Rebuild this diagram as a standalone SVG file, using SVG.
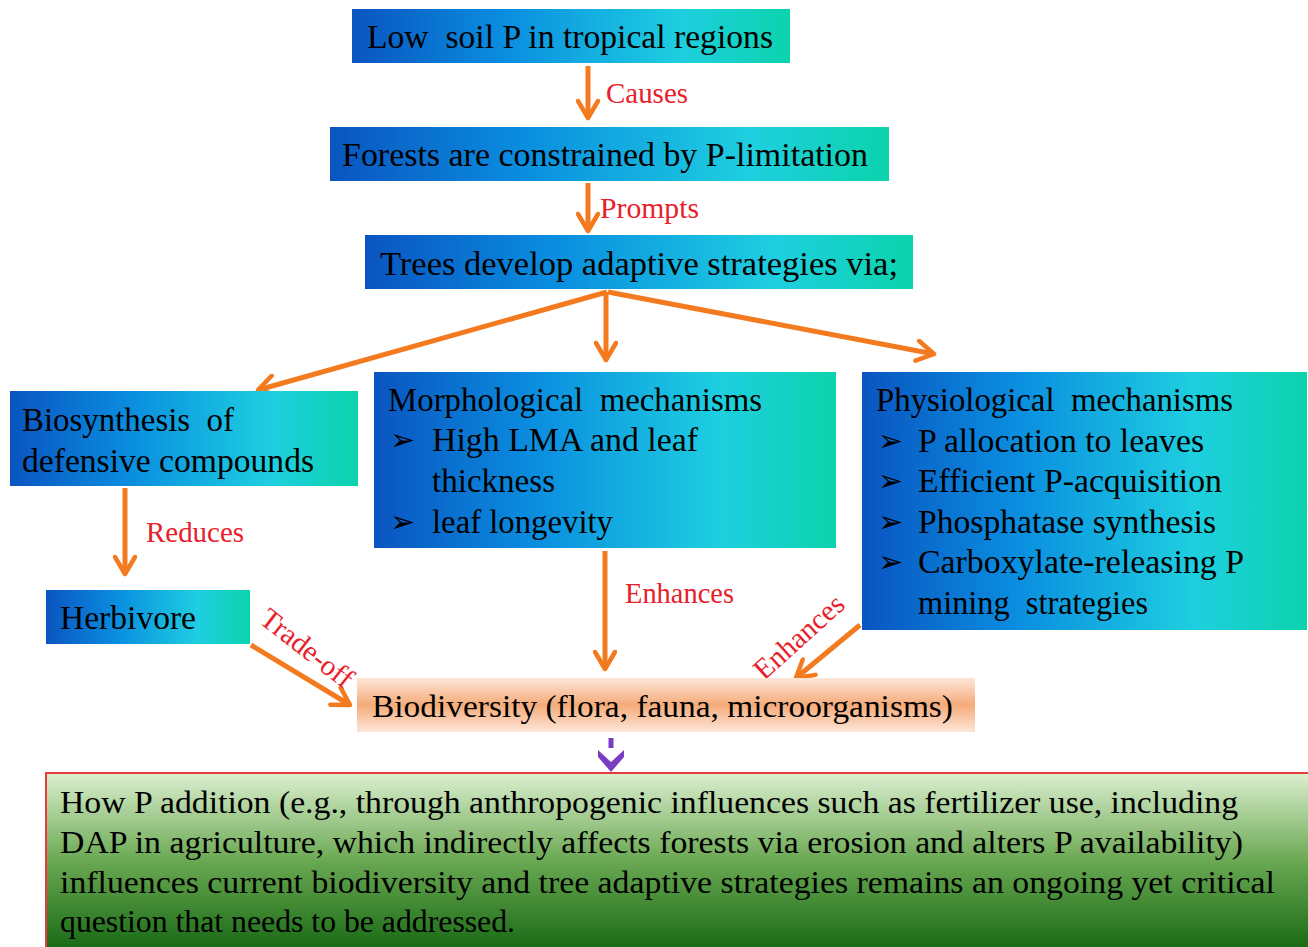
<svg xmlns="http://www.w3.org/2000/svg" width="1308" height="947" viewBox="0 0 1308 947">
<defs>
<linearGradient id="blue" x1="0" y1="0" x2="1" y2="0">
<stop offset="0" stop-color="#0a55c0"/>
<stop offset="0.35" stop-color="#0a8ee0"/>
<stop offset="0.75" stop-color="#1ecfe0"/>
<stop offset="1" stop-color="#0bd3ac"/>
</linearGradient>
<linearGradient id="peach" x1="0" y1="0" x2="0" y2="1">
<stop offset="0" stop-color="#fde6d8"/>
<stop offset="0.5" stop-color="#f5ab7a"/>
<stop offset="1" stop-color="#fde6d8"/>
</linearGradient>
<linearGradient id="green" x1="0" y1="0" x2="0" y2="1">
<stop offset="0" stop-color="#dcefd0"/>
<stop offset="0.5" stop-color="#6aa852"/>
<stop offset="1" stop-color="#1a6a16"/>
</linearGradient>
<marker id="chev" viewBox="0 0 24 24" refX="21" refY="12" markerWidth="24" markerHeight="24" markerUnits="userSpaceOnUse" orient="auto">
<path d="M4,2 L21,12 L4,22" fill="none" stroke="#f37a1e" stroke-width="4.5" stroke-linecap="round" stroke-linejoin="round"/>
</marker>
</defs>
<style>
.box{fill:url(#blue);}
.t{font-family:"Liberation Serif","Times New Roman",serif;font-size:34px;fill:#000;}
.lab{font-family:"Liberation Serif","Times New Roman",serif;font-size:29px;fill:#e8202a;}
.bul{font-family:"DejaVu Sans",sans-serif;font-size:30px;fill:#000;}
.arr{stroke:#f37a1e;stroke-width:5;fill:none;marker-end:url(#chev);}
.bt{font-family:"Liberation Serif","Times New Roman",serif;font-size:31px;fill:#000;}
</style>
<rect width="1308" height="947" fill="#ffffff"/>

<g id="connectors">
<line class="arr" x1="588" y1="66" x2="588" y2="118"/>
<line class="arr" x1="588" y1="183" x2="588" y2="231"/>
<line class="arr" x1="607" y1="292" x2="258" y2="390"/>
<line class="arr" x1="606" y1="292" x2="606" y2="360"/>
<line class="arr" x1="608" y1="292" x2="934" y2="354"/>
<line class="arr" x1="125" y1="488" x2="125" y2="574"/>
<line class="arr" x1="605" y1="551" x2="605" y2="669"/>
<line class="arr" x1="251" y1="645" x2="350" y2="705"/>
<line class="arr" x1="860" y1="625" x2="796" y2="678"/>
<line x1="611" y1="738" x2="611" y2="748" stroke="#7a3cc0" stroke-width="5"/>
<path d="M598,750 L611,762 L624,750 L624,757 L611,772 L598,757 Z" fill="#7a3cc0"/>
<text class="lab" x="606" y="103" textLength="82" lengthAdjust="spacingAndGlyphs">Causes</text>
<text class="lab" x="600" y="218" textLength="99" lengthAdjust="spacingAndGlyphs">Prompts</text>
<text class="lab" x="146" y="542" textLength="98" lengthAdjust="spacingAndGlyphs">Reduces</text>
<text class="lab" x="625" y="603" textLength="109" lengthAdjust="spacingAndGlyphs">Enhances</text>
<text class="lab" transform="translate(258,622) rotate(38)">Trade-off</text>
<text class="lab" transform="translate(764,681) rotate(-42)">Enhances</text>
</g>

<g id="n1">
<rect class="box" x="352" y="9" width="438" height="54"/>
<text class="t" x="367" y="48" textLength="406" lengthAdjust="spacingAndGlyphs">Low&#160; soil P in tropical regions</text>
</g>
<g id="n2">
<rect class="box" x="330" y="127" width="559" height="54"/>
<text class="t" x="342" y="166" textLength="526" lengthAdjust="spacingAndGlyphs">Forests are constrained by P-limitation</text>
</g>
<g id="n3">
<rect class="box" x="365" y="235" width="548" height="54"/>
<text class="t" x="380" y="275" textLength="518" lengthAdjust="spacingAndGlyphs">Trees develop adaptive strategies via;</text>
</g>
<g id="n4">
<rect class="box" x="10" y="391" width="348" height="95"/>
<text class="t" x="22" y="431" textLength="212" lengthAdjust="spacingAndGlyphs">Biosynthesis&#160; of</text>
<text class="t" x="22" y="472" textLength="292" lengthAdjust="spacingAndGlyphs">defensive compounds</text>
</g>
<g id="n5">
<rect class="box" x="374" y="372" width="462" height="176"/>
<text class="t" x="388" y="411" textLength="374" lengthAdjust="spacingAndGlyphs">Morphological&#160; mechanisms</text>
<text class="bul" x="390" y="450">➢</text>
<text class="t" x="432" y="451" textLength="266" lengthAdjust="spacingAndGlyphs">High LMA and leaf</text>
<text class="t" x="432" y="492" textLength="123" lengthAdjust="spacingAndGlyphs">thickness</text>
<text class="bul" x="390" y="532">➢</text>
<text class="t" x="432" y="533" textLength="181" lengthAdjust="spacingAndGlyphs">leaf longevity</text>
</g>
<g id="n6">
<rect class="box" x="862" y="372" width="445" height="258"/>
<text class="t" x="876" y="411" textLength="357" lengthAdjust="spacingAndGlyphs">Physiological&#160; mechanisms</text>
<text class="bul" x="878" y="451">➢</text>
<text class="t" x="918" y="452" textLength="286" lengthAdjust="spacingAndGlyphs">P allocation to leaves</text>
<text class="bul" x="878" y="491">➢</text>
<text class="t" x="918" y="492" textLength="304" lengthAdjust="spacingAndGlyphs">Efficient P-acquisition</text>
<text class="bul" x="878" y="532">➢</text>
<text class="t" x="918" y="533" textLength="298" lengthAdjust="spacingAndGlyphs">Phosphatase synthesis</text>
<text class="bul" x="878" y="572">➢</text>
<text class="t" x="918" y="573" textLength="326" lengthAdjust="spacingAndGlyphs">Carboxylate-releasing P</text>
<text class="t" x="918" y="614" textLength="230" lengthAdjust="spacingAndGlyphs">mining&#160; strategies</text>
</g>
<g id="n7">
<rect class="box" x="46" y="590" width="204" height="54"/>
<text class="t" x="60" y="629" textLength="136" lengthAdjust="spacingAndGlyphs">Herbivore</text>
</g>
<g id="n8">
<rect x="357" y="678" width="618" height="54" fill="url(#peach)"/>
<text class="t" x="372" y="717" style="font-size:31px" textLength="581" lengthAdjust="spacingAndGlyphs">Biodiversity (flora, fauna, microorganisms)</text>
</g>
<g id="n9">
<rect x="46" y="773" width="1264" height="176" fill="url(#green)" stroke="#e83a3a" stroke-width="2"/>
<text class="bt" x="60" y="813" textLength="1178" lengthAdjust="spacingAndGlyphs">How P addition (e.g., through anthropogenic influences such as fertilizer use, including</text>
<text class="bt" x="60" y="853" textLength="1183" lengthAdjust="spacingAndGlyphs">DAP in agriculture, which indirectly affects forests via erosion and alters P availability)</text>
<text class="bt" x="60" y="893" textLength="1215" lengthAdjust="spacingAndGlyphs">influences current biodiversity and tree adaptive strategies remains an ongoing yet critical</text>
<text class="bt" x="60" y="932" textLength="455" lengthAdjust="spacingAndGlyphs">question that needs to be addressed.</text>
</g>
</svg>
